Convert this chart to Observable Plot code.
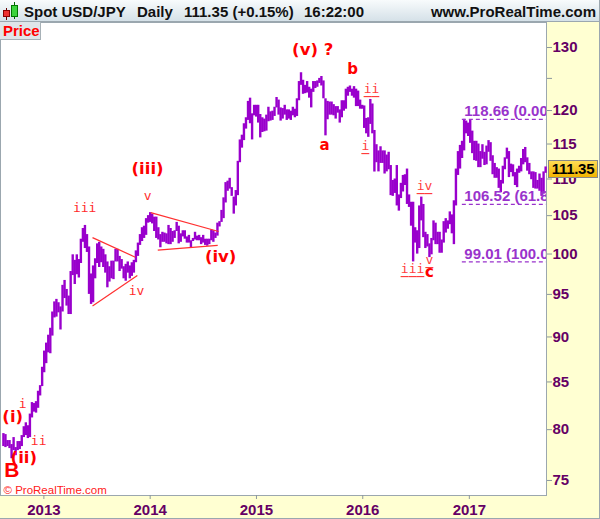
<!DOCTYPE html>
<html><head><meta charset="utf-8">
<script src="https://cdn.jsdelivr.net/npm/d3@7"></script>
<script src="https://cdn.jsdelivr.net/npm/@observablehq/plot@0.6"></script>
<style>
html,body{margin:0;padding:0;background:#fff;}
#wrap{position:relative;width:600px;height:519px;overflow:hidden;font-family:"Liberation Sans",Arial,sans-serif;}
#hdr{position:absolute;left:0;top:0;width:600px;height:21px;background:linear-gradient(#f8fbfc,#d5e1e8);border-bottom:1px solid #9ba7af;}
#hdr span.t{position:absolute;top:1px;font-weight:bold;font-size:15px;line-height:21px;color:#111;white-space:nowrap;}
#chart{position:absolute;left:0;top:22px;}
#pricebox{position:absolute;left:0;top:22px;width:41px;height:18px;background:#dfe5e9;border-right:1px solid #a7b1b7;border-bottom:1px solid #a7b1b7;color:#ff0000;font-weight:bold;font-size:15px;line-height:18px;padding-left:3px;box-sizing:border-box;}
#last{position:absolute;left:548px;width:50px;height:18px;box-sizing:border-box;background:linear-gradient(#ffdc55,#f2b400);border:1px solid #888;font-weight:bold;font-size:15px;line-height:16px;text-align:center;color:#000;letter-spacing:-0.3px;}
#outer{position:absolute;left:0;top:0;width:600px;height:519px;box-sizing:border-box;border-right:1px solid #9ba7af;border-bottom:1px solid #9ba7af;pointer-events:none;}
.cb{position:absolute;box-sizing:border-box;}
</style>
</head><body>
<div id="wrap">
  <div id="hdr">
    <div class="cb" style="left:6px;top:8px;width:1px;height:12px;background:#600;"></div>
    <div class="cb" style="left:3px;top:10px;width:7px;height:7px;background:#ee3030;border:1px solid #800;"></div>
    <div class="cb" style="left:14px;top:2px;width:1px;height:17px;background:#060;"></div>
    <div class="cb" style="left:11px;top:5px;width:7px;height:12px;background:#3cd43c;border:1px solid #070;"></div>
    <span class="t" style="left:24px">Spot USD/JPY</span>
    <span class="t" style="left:137px">Daily</span>
    <span class="t" style="left:184px">111.35 (+0.15%)</span>
    <span class="t" style="left:304px">16:22:00</span>
    <span class="t" style="right:4px">www.ProRealTime.com</span>
  </div>
  <div id="chart"></div>
  <div id="pricebox">Price</div>
  <div id="last">111.35</div>
  <div id="outer"></div>
</div>
<script>
// ---- weekly high / low of USD/JPY, one value per week, weeks starting Monday 2012-08-13 ----
const firstWeek = "2012-08-13";
const high2012 = [79.6,79.5,78.9,78.9,78.5,79.2,78.2,78.8,78.8,79.4,80.3,80.7,80.4,81.6,82.8,82.7,82.9,84.0,84.6,86.6,88.4];
const low2012  = [78.3,78.2,78.3,78.1,77.1,77.9,77.4,77.9,78.0,78.3,79.2,79.4,79.1,79.2,81.2,81.8,81.7,82.2,83.5,84.5,86.0];
const high2013 = [89.3,90.2,91.0,92.9, 94.1,94.4,94.0,93.5, 96.1,96.7,95.6,94.8, 97.8,99.9,99.2,99.9,99.3,
  101.9,103.3,103.7,102.5, 100.9,97.5,98.5,99.4, 101.3,101.5,100.9,100.6,99.9, 99.0,98.4,99.1,99.1,
  100.6,100.6,99.7,99.3,98.4, 98.7,99.0,98.5,98.9, 99.2,100.4,101.4,102.5, 103.4,103.6,104.6,105.0,105.4];
const low2013  = [87.0,88.2,88.1,90.1, 92.2,92.3,92.8,90.8, 92.9,94.5,93.6,92.6, 92.6,97.3,96.2,97.4,97.0,
  98.8,101.5,100.7,100.2, 95.0,93.8,94.0,96.9, 98.8,98.3,98.9,98.3,97.6, 95.8,96.5,96.9,96.8,
  99.0,99.0,97.8,98.1,96.9, 96.6,97.6,96.9,97.2, 97.6,98.9,99.7,101.1, 101.6,102.0,102.4,104.0,104.1];
const high2014 = [105.2,104.8,104.8,103.4, 102.5,102.8,102.7,102.6, 103.7,103.3,102.9,103.0,104.1,
  103.6,102.6,103.0,103.0, 102.2,102.4,101.7,102.0, 102.8,102.3,102.4,102.1,102.4, 101.9,101.9,101.9,103.1,
  103.0,102.7,104.0,104.2, 105.7,107.4,109.5,109.7,110.1, 108.8,107.5,108.4,112.5, 115.6,116.3,118.0,118.9,
  121.4,121.9,119.5,120.8,120.8];
const low2014  = [103.9,102.9,102.0,101.8, 100.8,101.5,101.5,101.3, 101.2,101.2,101.5,102.0,102.9,
  101.3,101.5,102.2,101.9, 101.4,101.4,100.8,101.6, 101.8,101.7,101.7,101.2,101.4, 101.1,101.0,101.2,101.7,
  101.5,102.0,102.3,103.5, 104.1,104.6,106.7,108.3,108.6, 107.6,105.2,106.3,107.7, 112.3,114.4,115.5,117.2,
  118.5,118.0,115.6,119.2,119.0];
const high2015 = [120.8,119.4,118.9,118.7, 119.3,120.5,119.8,119.9, 120.5,122.0,121.6,120.4,120.3,
  120.8,120.1,120.1,119.9, 120.5,120.2,121.8,124.5, 125.9,124.7,123.9,124.5,123.6, 123.3,124.5,124.5,124.6,
  125.0,125.3,124.6,121.8,121.4, 121.3,121.3,120.9,120.6, 120.6,120.1,121.5,121.5,
  123.3,123.6,123.8,123.3,123.7, 123.3,123.0,121.6,120.8];
const low2015  = [118.1,115.9,116.7,116.8, 116.9,118.3,118.4,118.5, 119.1,120.4,119.3,118.4,118.7,
  119.3,118.5,118.7,118.5, 119.2,118.9,119.1,121.5, 123.9,122.5,122.6,122.7,121.9, 120.4,122.8,123.4,123.6,
  124.2,123.8,121.8,116.2,118.6, 119.3,119.3,119.2,118.7, 119.6,118.1,118.9,119.9,
  120.2,122.2,122.8,122.2,121.9, 120.6,120.6,120.2,120.2];
const high2016 = [120.7,118.8,118.9,121.7, 121.0,117.0,114.9,114.0,114.6, 114.0,114.0,113.4,113.8,
  111.9,109.8,110.0,111.9, 107.8,109.4,110.5,110.6,111.4, 107.8,106.8,106.8,103.4, 103.0,106.3,107.5,106.5,
  102.8,102.5,101.3,102.0,104.3, 104.0,102.8,102.8,101.8, 104.2,104.6,104.3,105.5,105.1,
  107.0,111.4,113.9,114.8, 115.4,118.66,118.4,118.1];
const low2016  = [117.3,116.5,115.98,117.9, 116.5,110.98,112.3,111.0,112.2, 112.2,110.7,111.0,111.3,
  107.7,107.6,108.0,106.3, 105.6,107.3,108.2,109.1,106.5, 106.1,103.6,99.0,101.4, 99.99,100.7,104.3,102.1,
  100.7,100.9,99.55,99.9,101.7, 101.2,101.2,100.1,100.1, 101.4,102.7,103.2,103.8,102.6,
  101.2,106.3,110.5,111.4, 112.9,114.0,116.5,116.1];
const high2017 = [118.6,116.9,115.4,115.4,115.0, 113.9,114.9,113.8,114.7, 115.5,115.2,113.3,112.2,
  111.6,111.4,109.8,111.8, 113.0,114.4,113.9,112.1,112.0, 110.9,111.4,111.8,112.9,
  114.2,114.5,113.0,112.2,111.0, 111.0,110.9,109.8,110.7, 110.1,111.0,111.7];
const low2017  = [115.1,113.6,112.6,112.5,111.6, 111.6,112.8,111.9,112.0, 113.8,112.5,110.6,110.1,
  110.1,108.7,108.1,109.3, 111.3,112.8,110.2,110.9,110.3, 109.1,108.8,110.8,111.0,
  112.0,112.3,111.1,110.6,109.9, 108.7,108.6,108.6,108.3, 107.6,107.9,110.8];

const lastPrice = 111.35;
const yTicks = [75,80,85,90,95,100,105,110,115,120,125,130];
const yTickLabels = [75,80,85,90,95,100,105,110,115,120,130];
const yearTicks = ["2013-01-01","2014-01-01","2015-01-01","2016-01-01","2017-01-01"];
const xDomain = ["2012-08-05","2017-09-23"];
const yDomain = [73.58, 134.2];

// Fibonacci retracement levels
const fibLevels = [118.66, 106.52, 99.01];
const fibPcts = ["0.00%", "61.8%", "100.0%"];
const fibFrom = "2016-12-08";
const fibTo = "2017-12-31";

// triangles (start date, start price, end date, end price)
const triFromDate = ["2013-06-17","2013-06-17","2014-01-03","2014-01-27"];
const triFromPrice = [102.1, 93.6, 105.4, 100.5];
const triToDate = ["2013-11-11","2013-11-18","2014-08-24","2014-08-21"];
const triToPrice = [99.6, 97.3, 102.9, 101.1];

// wave labels: text, date, price
const labelB = [["B","2012-09-13",76.0]];
const labelsParen = [["(i)","2012-09-16",81.3],["(ii)","2012-10-24",77.2],["(iii)","2013-12-23",111.5],
  ["(iv)","2014-08-31",99.7],["(v) ?","2015-07-13",129.6]];
const labelsLetter = [["a","2015-08-23",114.8],["b","2015-11-27",126.4],["c","2016-08-17",97.7]];
const labelsMinor = [["i","2012-10-20",82.7],["ii","2012-12-14",78.9],["iii","2013-05-21",106.1],
  ["iv","2013-11-15",95.4],["v","2013-12-23",107.7]];
const labelsUnder = [["ii","2016-01-31",123.4],["i","2016-01-10",114.8],["iv","2016-07-31",109.0],
  ["iii","2016-06-20",98.1],["v","2016-08-17",99.3]];

// ---- build tables ----
const D = s => new Date(s);
const highs = [...high2012, ...high2013, ...high2014, ...high2015, ...high2016, ...high2017];
const lows  = [...low2012, ...low2013, ...low2014, ...low2015, ...low2016, ...low2017];
const start = D(firstWeek);
const bars = highs.map((h, i) => ({date: d3.utcDay.offset(start, 7 * i + 2), high: h, low: lows[i]}));
const fib = fibLevels.map((v, i) => ({level: v, from: D(fibFrom), to: D(fibTo), label: `${v.toFixed(2)} (${fibPcts[i]})`}));
const tris = triFromDate.map((d, i) => ({x1: D(d), y1: triFromPrice[i], x2: D(triToDate[i]), y2: triToPrice[i]}));
const lab = arr => arr.map(([t, d, p]) => ({t, date: D(d), p}));
const under = lab(labelsUnder).map(o => ({...o, u: "_".repeat(o.t.length)}));

const PURPLE = "#9900cc";
const RED = "#ff0000";
const AXIS = "#650065";
const MONO = "'DejaVu Sans Mono', monospace";

const chart = Plot.plot({
  width: 600, height: 497,
  marginTop: 0, marginLeft: 0, marginRight: 54, marginBottom: 24,
  style: {background: "#ffffd2", fontFamily: "'Liberation Sans', Arial, sans-serif", overflow: "visible"},
  x: {type: "utc", domain: xDomain.map(D), label: null},
  y: {type: "log", domain: yDomain, label: null},
  marks: [
    Plot.frame({fill: "white", stroke: "#9ba7af"}),
    Plot.ruleX(bars, {x: "date", y1: "low", y2: "high", stroke: PURPLE, strokeWidth: 2.4}),
    Plot.link(tris, {x1: "x1", y1: "y1", x2: "x2", y2: "y2", stroke: "#ff3030", strokeWidth: 1.2}),
    Plot.ruleY(fib, {y: "level", x1: "from", x2: "to", stroke: "#9933cc", strokeWidth: 1.3, strokeDasharray: "4,3", clip: true}),
    Plot.text(fib, {x: "from", y: "level", text: "label", textAnchor: "start", lineAnchor: "bottom", dx: 2, dy: -3,
      fill: "#9933cc", fontWeight: "bold", fontSize: 15, clip: true}),
    Plot.text(lab(labelB), {x: "date", y: "p", text: "t", fill: RED, fontWeight: "bold", fontSize: 21}),
    Plot.text(lab(labelsParen), {x: "date", y: "p", text: "t", fill: RED, fontWeight: "bold", fontSize: 16.5, fontFamily: "'DejaVu Sans', sans-serif"}),
    Plot.text(lab(labelsLetter), {x: "date", y: "p", text: "t", fill: RED, fontWeight: "bold", fontSize: 15, fontFamily: "'DejaVu Sans', sans-serif"}),
    Plot.text(lab(labelsMinor), {x: "date", y: "p", text: "t", fill: "#ff2a2a", fontSize: 13, fontFamily: MONO}),
    Plot.text(under, {x: "date", y: "p", text: "t", fill: "#ff3c3c", fontSize: 13, fontFamily: MONO}),
    Plot.text(under, {x: "date", y: "p", text: "u", fill: "#ff3c3c", fontSize: 13, fontFamily: MONO, fontWeight: "bold", dy: 1}),
    Plot.text(["© ProRealTime.com"], {frameAnchor: "bottom-left", textAnchor: "start", lineAnchor: "bottom", dx: 3, dy: -2, fill: "#ff2020", fontSize: 11.5}),
    Plot.axisY(yTicks, {anchor: "right", tickSize: 5, tickFormat: () => "", color: "#8c979e"}),
    Plot.text(yTickLabels, {y: d => d, text: d => String(d), frameAnchor: "right", textAnchor: "start", dx: 6,
      fill: AXIS, fontSize: 15, fontWeight: "bold"}),
    Plot.axisX({anchor: "bottom", ticks: yearTicks.map(D), tickSize: 4, tickFormat: () => "", color: "#8c979e"}),
    Plot.axisX({anchor: "bottom", ticks: yearTicks.map(D), tickSize: 0, tickPadding: 9, tickFormat: d3.utcFormat("%Y"),
      color: AXIS, fontSize: 15, fontWeight: "bold"})
  ]
});
document.getElementById("chart").appendChild(chart);

const ys = chart.scale("y");
const yPix = ys.apply ? ys.apply(lastPrice) : d3.scaleLog(ys.domain, ys.range)(lastPrice);
document.getElementById("last").style.top = (22 + yPix - 9) + "px";
</script>
</body></html>
